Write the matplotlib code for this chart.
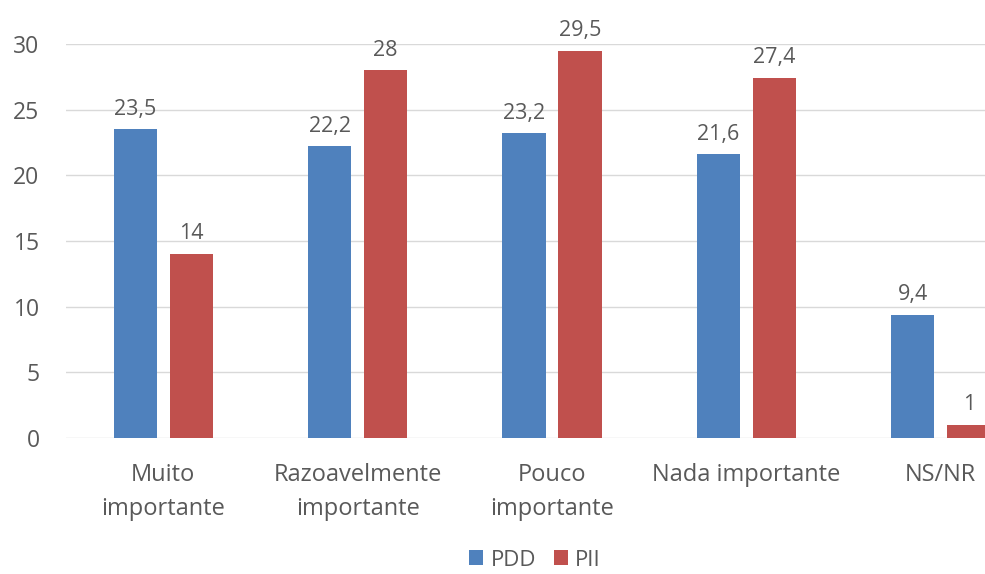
import numpy as np
import matplotlib
matplotlib.use("Agg")
import matplotlib.pyplot as plt

categories = ["Muito\nimportante", "Razoavelmente\nimportante", "Pouco\nimportante",
              "Nada importante", "NS/NR"]
pdd = [23.5, 22.2, 23.2, 21.6, 9.4]
pii = [14, 28, 29.5, 27.4, 1]
yticks = [0, 5, 10, 15, 20, 25, 30]

BLUE = "#4F81BD"
RED = "#C0504D"
TXT = "#595959"

plt.rcParams["font.family"] = ["Open Sans", "DejaVu Sans"]

fig = plt.figure(figsize=(9.85, 5.74), dpi=100)
# o gráfico original está cortado à direita
ax = fig.add_axes([66 / 985, 136 / 574, 972 / 985, 394 / 574])

x = np.arange(len(categories))
w = 0.222
off = 0.144
b1 = ax.bar(x - off, pdd, w, color=BLUE, label="PDD", zorder=2)
b2 = ax.bar(x + off, pii, w, color=RED, label="PII", zorder=2)

def fmt(v):
    s = f"{v:g}"
    return s.replace(".", ",")

for bars, vals in ((b1, pdd), (b2, pii)):
    for r, v in zip(bars, vals):
        ax.annotate(fmt(v), (r.get_x() + r.get_width() / 2, v), xytext=(0, 7),
                    textcoords="offset points", ha="center", va="bottom",
                    fontsize=15.5, color=TXT)

ax.set_xlim(-0.5, len(categories) - 0.5)
ax.set_ylim(0, 30)
ax.set_yticks(yticks)
ax.set_yticklabels([str(t) for t in yticks], fontsize=16.5, color=TXT)
ax.set_xticks(x)
ax.set_xticklabels(categories, fontsize=17, color=TXT, linespacing=1.55)
ax.tick_params(length=0, axis="y", pad=19)
ax.tick_params(length=0, axis="x", pad=18)
ax.yaxis.grid(True, color="#D9D9D9", linewidth=1, zorder=0)
for s in ax.spines.values():
    s.set_visible(False)

fig.legend(handles=[b1, b2], loc="center", bbox_to_anchor=(535 / 985, 1 - 560 / 574),
           ncol=2, frameon=False, fontsize=16, handlelength=0.62, handleheight=0.62,
           handletextpad=0.35, columnspacing=0.8, labelcolor=TXT,
           borderpad=0.1)

fig.savefig("out.png", dpi=100)
